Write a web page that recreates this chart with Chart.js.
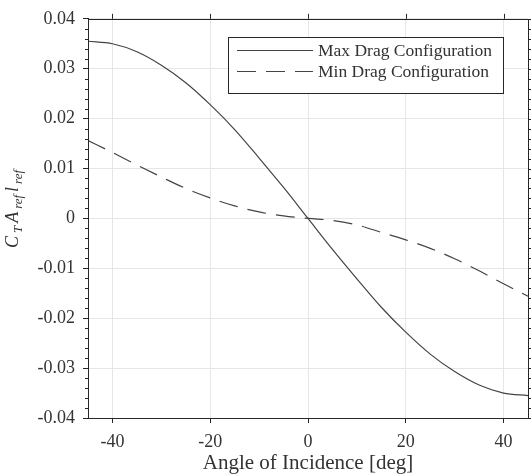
<!DOCTYPE html>
<html>
<head>
<meta charset="utf-8">
<script src="https://cdn.jsdelivr.net/npm/chart.js@4.4.0/dist/chart.umd.min.js"></script>
<style>
  html, body { margin: 0; padding: 0; background: #ffffff; }
  #wrap { width: 531px; height: 476px; }
</style>
</head>
<body>
<div id="wrap"><canvas id="chartCanvas" width="531" height="476"></canvas></div>
<script>
// angle of incidence [deg]
const angles = [-45, -40, -35, -30, -25, -20, -15, -10, -5, 0, 5, 10, 15, 20, 25, 30, 35, 40, 45];

// C_T * A_ref * l_ref
const maxDrag = [0.0355, 0.0350, 0.0334, 0.0307, 0.0272, 0.0228, 0.0178, 0.0121, 0.0062, 0.0000,
                 -0.0062, -0.0121, -0.0178, -0.0228, -0.0272, -0.0307, -0.0334, -0.0350, -0.0355];
const minDrag = [0.0156, 0.0132, 0.0107, 0.0083, 0.0060, 0.0041, 0.0025, 0.0013, 0.0005, 0.0000,
                 -0.0004, -0.0013, -0.0028, -0.0043, -0.0060, -0.0081, -0.0105, -0.0131, -0.0156];

const seriesNames = ["Max Drag Configuration", "Min Drag Configuration"];

const xTicks = [-40, -20, 0, 20, 40];
const yTicks = [-0.04, -0.03, -0.02, -0.01, 0, 0.01, 0.02, 0.03, 0.04];
const yMinorStep = 0.002;

const FONT = "'Liberation Serif', 'DejaVu Serif', serif";
const INK = "#333333";
const LINE = "#444444";

function toPoints(xs, ys) {
    return xs.map((x, i) => ({x: x, y: ys[i]}));
}

// frame, outer ticks, minor ticks, legend and the y title with subscripts
const decorations = {
    id: 'decorations',
    afterDraw(chart) {
        const ctx = chart.ctx;
        const a = chart.chartArea;
        const xs = chart.scales.x;
        const ys = chart.scales.y;
        ctx.save();

        // box
        ctx.strokeStyle = "#262626";
        ctx.lineWidth = 1;
        ctx.strokeRect(Math.round(a.left) + 0.5, Math.round(a.top) + 0.5,
                       Math.round(a.right - a.left), Math.round(a.bottom - a.top));

        ctx.beginPath();
        // top ticks (outward)
        xTicks.forEach(v => {
            let px = Math.round(xs.getPixelForValue(v)) + 0.5;
            ctx.moveTo(px, a.top);
            ctx.lineTo(px, a.top - 5);
        });
        // right major ticks
        yTicks.forEach(v => {
            let py = Math.round(ys.getPixelForValue(v)) + 0.5;
            ctx.moveTo(a.right, py);
            ctx.lineTo(a.right + 5, py);
        });
        // minor ticks left and right
        for (let k = -20; k <= 20; k++) {
            if (k % 5 === 0) continue;
            let py = Math.round(ys.getPixelForValue(k * yMinorStep)) + 0.5;
            ctx.moveTo(a.left, py);
            ctx.lineTo(a.left - 3, py);
            ctx.moveTo(a.right, py);
            ctx.lineTo(a.right + 3, py);
        }
        ctx.stroke();

        // legend
        const lx = 228.5, ly = 37.5, lw = 275, lh = 56;
        ctx.fillStyle = "#ffffff";
        ctx.fillRect(lx, ly, lw, lh);
        ctx.strokeStyle = "#262626";
        ctx.strokeRect(lx, ly, lw, lh);
        const rows = [50, 71];
        chart.data.datasets.forEach((ds, i) => {
            ctx.strokeStyle = ds.borderColor;
            ctx.lineWidth = ds.borderWidth;
            ctx.setLineDash(ds.borderDash || []);
            ctx.beginPath();
            ctx.moveTo(237, rows[i] + 0.5);
            ctx.lineTo(313, rows[i] + 0.5);
            ctx.stroke();
            ctx.setLineDash([]);
            ctx.fillStyle = INK;
            ctx.font = "17.5px " + FONT;
            ctx.textAlign = "left";
            ctx.textBaseline = "middle";
            ctx.fillText(ds.label, 318, rows[i] + 1);
        });

        // y title: C_T A_ref l_ref
        const parts = [
            {t: "C", sub: false}, {t: "T", sub: true},
            {t: "A", sub: false}, {t: "ref", sub: true},
            {t: "l", sub: false}, {t: "ref", sub: true}
        ];
        const big = "italic 18px " + FONT, small = "italic 13px " + FONT;
        const gap = 3;
        let total = 0;
        parts.forEach(p => {
            ctx.font = p.sub ? small : big;
            p.w = ctx.measureText(p.t).width;
            total += p.w + gap;
        });
        total -= gap;
        ctx.translate(18, 209);
        ctx.rotate(-Math.PI / 2);
        ctx.fillStyle = INK;
        ctx.textAlign = "left";
        ctx.textBaseline = "alphabetic";
        let cx = -total / 2;
        parts.forEach(p => {
            ctx.font = p.sub ? small : big;
            ctx.fillText(p.t, cx, p.sub ? 4 : 0);
            cx += p.w + gap;
        });
        ctx.restore();
    }
};

function createChart() {
    const datasets = [
        {
            label: seriesNames[0],
            data: toPoints(angles, maxDrag),
            borderColor: LINE,
            borderWidth: 1.2,
            pointRadius: 0,
            fill: false,
            cubicInterpolationMode: 'monotone'
        },
        {
            label: seriesNames[1],
            data: toPoints(angles, minDrag),
            borderColor: LINE,
            borderWidth: 1.2,
            borderDash: [19, 10],
            pointRadius: 0,
            fill: false,
            cubicInterpolationMode: 'monotone'
        }
    ];

    return new Chart(document.getElementById("chartCanvas").getContext('2d'), {
        type: 'line',
        data: {datasets: datasets},
        plugins: [decorations],
        options: {
            responsive: false,
            animation: false,
            layout: {padding: {top: 11, right: 3, left: 0, bottom: 0}},
            plugins: {
                legend: {display: false},
                tooltip: {enabled: false}
            },
            scales: {
                x: {
                    type: 'linear',
                    min: -45,
                    max: 45,
                    afterBuildTicks: s => { s.ticks = xTicks.map(v => ({value: v})); },
                    afterFit: s => { s.height = 58; },
                    grid: {color: '#e6e6e6', tickColor: '#262626', tickLength: 5},
                    border: {color: '#262626'},
                    ticks: {
                        color: INK,
                        font: {family: FONT, size: 18},
                        padding: 8,
                        maxRotation: 0,
                        callback: v => String(v)
                    },
                    title: {
                        display: true,
                        text: 'Angle of Incidence [deg]',
                        color: INK,
                        font: {family: FONT, size: 21},
                        padding: {top: 0, bottom: 0}
                    }
                },
                y: {
                    type: 'linear',
                    min: -0.04,
                    max: 0.04,
                    afterBuildTicks: s => { s.ticks = yTicks.map(v => ({value: v})); },
                    afterFit: s => { s.width = 88; },
                    grid: {color: '#e6e6e6', tickColor: '#262626', tickLength: 5},
                    border: {color: '#262626'},
                    ticks: {
                        color: INK,
                        font: {family: FONT, size: 18},
                        padding: 8,
                        callback: v => (Math.abs(v) < 1e-9 ? '0' : v.toFixed(2))
                    }
                }
            }
        }
    });
}

createChart();
</script>
</body>
</html>
